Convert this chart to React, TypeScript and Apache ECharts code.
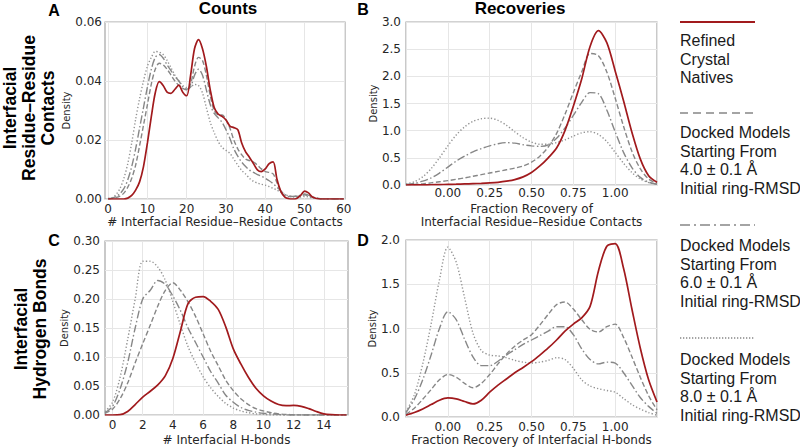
import React, { useEffect, useRef } from 'react';
import * as echarts from 'echarts';

// ---------- Panel A: counts of interfacial residue–residue contacts ----------
const contactsCountX = [
  0, 1, 2, 3, 4, 5, 6, 7, 8, 9, 10, 11, 12, 13, 14, 15, 16, 17, 18, 19, 20, 21, 22, 23, 24, 25, 26,
  27, 28, 29, 30, 31, 32, 33, 34, 35, 36, 37, 38, 39, 40, 41, 42, 43, 44, 45, 46, 47, 48, 49, 50, 51,
  52, 54, 56, 58, 60,
];
const contactsCountNatives = [
  0, 0, 0, 0, 0, 0.0003, 0.0012, 0.003, 0.0058, 0.011, 0.019, 0.028, 0.036, 0.0398, 0.0385, 0.0362,
  0.0358, 0.0372, 0.0386, 0.0362, 0.035, 0.042, 0.051, 0.054, 0.051, 0.045, 0.037, 0.031, 0.0288,
  0.028, 0.0268, 0.0247, 0.0242, 0.0235, 0.019, 0.016, 0.0141, 0.012, 0.0099, 0.0093, 0.0102, 0.012,
  0.0126, 0.0066, 0.0025, 0.0006, 0.0001, 0, 0.0002, 0.0012, 0.0027, 0.0021, 0.0007, 0, 0, 0, 0,
];
const contactsCount4A = [
  0, 0.0002, 0.0005, 0.001, 0.002, 0.004, 0.007, 0.0115, 0.018, 0.025, 0.032, 0.039, 0.044, 0.046,
  0.0455, 0.044, 0.042, 0.04, 0.0385, 0.0375, 0.037, 0.039, 0.045, 0.048, 0.047, 0.042, 0.035, 0.03,
  0.0285, 0.0285, 0.027, 0.024, 0.02, 0.017, 0.015, 0.0135, 0.013, 0.0125, 0.0115, 0.0102, 0.0093,
  0.009, 0.0085, 0.0055, 0.0025, 0.001, 0.0008, 0.0008, 0.0009, 0.0011, 0.0014, 0.0011, 0.0006,
  0.0001, 0, 0, 0,
];
const contactsCount6A = [
  0.0001, 0.0003, 0.0008, 0.0018, 0.0035, 0.0065, 0.011, 0.017, 0.024, 0.031, 0.038, 0.044, 0.048,
  0.049, 0.0478, 0.0455, 0.0435, 0.0415, 0.04, 0.038, 0.0372, 0.038, 0.042, 0.044, 0.042, 0.037,
  0.032, 0.029, 0.0275, 0.026, 0.0235, 0.0205, 0.017, 0.0145, 0.0125, 0.011, 0.0098, 0.009, 0.0083,
  0.0077, 0.007, 0.0062, 0.0052, 0.004, 0.0027, 0.0015, 0.001, 0.0009, 0.001, 0.0013, 0.0017,
  0.0013, 0.0007, 0.0001, 0, 0, 0,
];
const contactsCount8A = [
  0.0002, 0.0005, 0.0015, 0.0035, 0.007, 0.012, 0.019, 0.027, 0.034, 0.04, 0.045, 0.048, 0.05,
  0.0498, 0.049, 0.047, 0.0445, 0.042, 0.04, 0.0385, 0.0378, 0.038, 0.0388, 0.0385, 0.036, 0.031,
  0.026, 0.0225, 0.0195, 0.0175, 0.0165, 0.0155, 0.0135, 0.0115, 0.0097, 0.0085, 0.007, 0.006,
  0.0054, 0.005, 0.0047, 0.0042, 0.0036, 0.003, 0.0022, 0.0015, 0.001, 0.0007, 0.0006, 0.0007,
  0.0009, 0.0007, 0.0004, 0.0001, 0, 0, 0,
];

// ---------- Panel B: fraction recovery of residue–residue contacts ----------
const recoveryX = [
  -0.25, -0.2, -0.15, -0.1, -0.05, 0, 0.05, 0.1, 0.15, 0.2, 0.25, 0.3, 0.35, 0.4, 0.45, 0.5, 0.55,
  0.6, 0.65, 0.7, 0.75, 0.8, 0.85, 0.9, 0.95, 1.0, 1.05, 1.1, 1.15, 1.2, 1.25,
];
const contactsRecNatives = [
  0, 0.001, 0.003, 0.005, 0.008, 0.011, 0.015, 0.02, 0.025, 0.03, 0.038, 0.05, 0.07, 0.1, 0.15,
  0.23, 0.35, 0.5, 0.68, 1.0, 1.45, 1.95, 2.55, 2.84, 2.62, 2.1, 1.55, 0.97, 0.48, 0.17, 0.05,
];
const contactsRec4A = [
  0.003, 0.01, 0.02, 0.04, 0.06, 0.08, 0.105, 0.13, 0.16, 0.19, 0.22, 0.25, 0.28, 0.31, 0.35, 0.42,
  0.53, 0.7, 0.95, 1.3, 1.7, 2.08, 2.42, 2.38, 2.08, 1.6, 1.08, 0.62, 0.3, 0.11, 0.03,
];
const contactsRec6A = [
  0.01, 0.03, 0.07, 0.13, 0.22, 0.33, 0.44, 0.53, 0.61, 0.67, 0.72, 0.76, 0.78, 0.77, 0.74, 0.72,
  0.71, 0.74, 0.86, 1.05, 1.28, 1.52, 1.7, 1.68, 1.38, 0.98, 0.6, 0.32, 0.14, 0.05, 0.015,
];
const contactsRec8A = [
  0.02, 0.06, 0.15, 0.3, 0.5, 0.72, 0.92, 1.07, 1.17, 1.22, 1.23, 1.19, 1.1, 0.98, 0.87, 0.79, 0.75,
  0.75, 0.78, 0.83, 0.9, 0.96, 0.98, 0.93, 0.8, 0.6, 0.4, 0.23, 0.11, 0.045, 0.015,
];

// ---------- Panel C: counts of interfacial H-bonds ----------
const hbondCountX = [
  -0.5, 0, 0.5, 1, 1.5, 2, 2.5, 3, 3.5, 4, 4.5, 5, 5.5, 6, 6.5, 7, 7.5, 8, 8.5, 9, 9.5, 10, 10.5, 11,
  11.5, 12, 12.5, 13, 13.5, 14, 14.5, 15, 15.5,
];
const hbondCountNatives = [
  0, 0, 0.0005, 0.006, 0.018, 0.031, 0.041, 0.052, 0.068, 0.098, 0.145, 0.192, 0.203, 0.204, 0.196,
  0.182, 0.152, 0.114, 0.088, 0.065, 0.046, 0.033, 0.024, 0.018, 0.016, 0.0165, 0.015, 0.011, 0.006,
  0.002, 0.0005, 0, 0,
];
const hbondCount4A = [
  0.003, 0.01, 0.028, 0.055, 0.09, 0.123, 0.155, 0.188, 0.215, 0.228, 0.215, 0.195, 0.17, 0.14, 0.11,
  0.085, 0.06, 0.042, 0.028, 0.018, 0.011, 0.007, 0.004, 0.002, 0.001, 0.0005, 0, 0, 0, 0, 0, 0, 0,
];
const hbondCount6A = [
  0.004, 0.015, 0.045, 0.09, 0.15, 0.2, 0.215, 0.232, 0.225, 0.205, 0.18, 0.15, 0.125, 0.1, 0.075,
  0.055, 0.034, 0.022, 0.013, 0.008, 0.005, 0.003, 0.002, 0.001, 0, 0, 0, 0, 0, 0, 0, 0, 0,
];
const hbondCount8A = [
  0.006, 0.022, 0.065, 0.13, 0.2, 0.265, 0.265, 0.255, 0.232, 0.195, 0.155, 0.118, 0.09, 0.066,
  0.047, 0.032, 0.02, 0.012, 0.007, 0.004, 0.002, 0.001, 0, 0, 0, 0, 0, 0, 0, 0, 0, 0, 0,
];

// ---------- Panel D: fraction recovery of interfacial H-bonds ----------
const hbondRecNatives = [
  0.02, 0.05, 0.09, 0.14, 0.19, 0.215, 0.205, 0.175, 0.148, 0.19, 0.28, 0.36, 0.43, 0.5, 0.56, 0.625,
  0.7, 0.78, 0.87, 0.97, 1.05, 1.12, 1.25, 1.65, 1.93, 1.96, 1.68, 1.22, 0.78, 0.42, 0.17,
];
const hbondRec4A = [
  0.03, 0.1, 0.2, 0.31, 0.42, 0.48, 0.45, 0.38, 0.33, 0.38, 0.48, 0.6, 0.71, 0.8, 0.87, 0.93, 1.04,
  1.16, 1.27, 1.3, 1.22, 1.1, 0.99, 0.96, 1.02, 1.05, 0.9, 0.68, 0.45, 0.24, 0.08,
];
const hbondRec6A = [
  0.05, 0.2, 0.42, 0.7, 1.0, 1.19, 1.1, 0.88, 0.68, 0.58, 0.58, 0.63, 0.7, 0.76, 0.82, 0.87, 0.92,
  0.97, 1.02, 1.02, 0.93, 0.77, 0.65, 0.6, 0.62, 0.61, 0.5, 0.36, 0.22, 0.12, 0.04,
];
const hbondRec8A = [
  0.06, 0.25, 0.6, 1.05, 1.55, 1.92, 1.75, 1.35, 0.95, 0.75, 0.7, 0.69, 0.67, 0.64, 0.62, 0.61, 0.62,
  0.64, 0.67, 0.65, 0.55, 0.42, 0.35, 0.32, 0.3, 0.28, 0.21, 0.14, 0.09, 0.05, 0.02,
];

// ---------- ticks & labels ----------
const contactsCountTicks = [0, 10, 20, 30, 40, 50, 60];
const hbondCountTicks = [0, 2, 4, 6, 8, 10, 12, 14];
const legendLabels = [
  'Refined\nCrystal\nNatives',
  'Docked Models\nStarting From\n4.0 ± 0.1 Å\nInitial ring-RMSD',
  'Docked Models\nStarting From\n6.0 ± 0.1 Å\nInitial ring-RMSD',
  'Docked Models\nStarting From\n8.0 ± 0.1 Å\nInitial ring-RMSD',
];

const TICK_FONT = 'DejaVu Sans';
const SANS = 'Liberation Sans';
const RED = '#a11a1d';
const GRAY = '#878787';

const styles = [
  { color: RED, width: 1.7, type: 'solid' as any },
  { color: GRAY, width: 1.4, type: [5, 2.5] },
  { color: GRAY, width: 1.4, type: [8, 2.5, 1.5, 2.5] },
  { color: '#939393', width: 1.4, type: [1.3, 2.1] },
];

function mkSeries(x: number[], ys: number[][], idx: number) {
  // draw grey curves first, natives on top
  const order = [3, 2, 1, 0];
  return order.map((k) => ({
    type: 'line',
    xAxisIndex: idx,
    yAxisIndex: idx,
    data: x.map((v, i) => [v, ys[k][i]]),
    symbol: 'none',
    showSymbol: false,
    smooth: 0.3,
    silent: true,
    z: k === 0 ? 5 : 3,
    lineStyle: { color: styles[k].color, width: styles[k].width, type: styles[k].type },
  }));
}

const splitLine = { show: true, lineStyle: { color: '#e6e6e6', width: 1 } };
const labelBase = { fontFamily: TICK_FONT, fontSize: 12, color: '#262626' };
const nameBase = { fontFamily: TICK_FONT, fontSize: 12, color: '#262626' };

function yAxis(idx: number, max: number, interval: number, digits: number, margin: number, gap: number) {
  return {
    gridIndex: idx,
    type: 'value',
    min: 0,
    max,
    interval,
    axisLine: { show: false },
    axisTick: { show: false },
    axisLabel: { ...labelBase, margin, formatter: (v: number) => v.toFixed(digits) },
    splitLine,
    name: 'Density',
    nameLocation: 'middle',
    nameGap: gap,
    nameTextStyle: { fontFamily: TICK_FONT, fontSize: 10, color: '#262626' },
  };
}

export default function App() {
  const ref = useRef<HTMLDivElement>(null);
  useEffect(() => {
    if (!ref.current) return;
    const chart = echarts.init(ref.current, null, { renderer: 'svg' });

    const legendTops = [22, 113, 225, 338];
    const legendTextTops = [31, 123, 236, 350];
    const graphic: any[] = [
      { type: 'text', x: 228, y: 8, style: { text: 'Counts', fontFamily: SANS, fontWeight: 'bold', fontSize: 17, fill: '#000', textAlign: 'center', textVerticalAlign: 'middle' } },
      { type: 'text', x: 520, y: 8, style: { text: 'Recoveries', fontFamily: SANS, fontWeight: 'bold', fontSize: 17, fill: '#000', textAlign: 'center', textVerticalAlign: 'middle' } },
      { type: 'text', x: 54, y: 10, style: { text: 'A', fontFamily: SANS, fontWeight: 'bold', fontSize: 16, fill: '#000', textAlign: 'center', textVerticalAlign: 'middle' } },
      { type: 'text', x: 363, y: 9, style: { text: 'B', fontFamily: SANS, fontWeight: 'bold', fontSize: 16, fill: '#000', textAlign: 'center', textVerticalAlign: 'middle' } },
      { type: 'text', x: 54, y: 240, style: { text: 'C', fontFamily: SANS, fontWeight: 'bold', fontSize: 16, fill: '#000', textAlign: 'center', textVerticalAlign: 'middle' } },
      { type: 'text', x: 363, y: 240, style: { text: 'D', fontFamily: SANS, fontWeight: 'bold', fontSize: 16, fill: '#000', textAlign: 'center', textVerticalAlign: 'middle' } },
      { type: 'text', x: 29, y: 108, rotation: Math.PI / 2, style: { text: 'Interfacial\nResidue–Residue\nContacts', fontFamily: SANS, fontWeight: 'bold', fontSize: 17.5, lineHeight: 19, fill: '#000', textAlign: 'center', textVerticalAlign: 'middle' } },
      { type: 'text', x: 30, y: 329, rotation: Math.PI / 2, style: { text: 'Interfacial\nHydrogen Bonds', fontFamily: SANS, fontWeight: 'bold', fontSize: 17.5, lineHeight: 19, fill: '#000', textAlign: 'center', textVerticalAlign: 'middle' } },
    ];
    const legendDash = [null, [8, 5], [10, 4, 2, 4], [1.3, 1.7]];
    legendLabels.forEach((t, i) => {
      graphic.push({
        type: 'line',
        shape: { x1: 680, y1: legendTops[i], x2: 755, y2: legendTops[i] },
        style: { stroke: i === 0 ? RED : GRAY, lineWidth: i === 0 ? 2 : 1.6, lineDash: legendDash[i] || undefined },
      });
      graphic.push({
        type: 'text',
        x: 680,
        y: legendTextTops[i],
        style: { text: t, fontFamily: SANS, fontSize: 16, lineHeight: 18.7, fill: '#1a1a1a', textAlign: 'left', textVerticalAlign: 'top' },
      });
    });

    const option: any = {
      animation: false,
      backgroundColor: '#ffffff',
      grid: [
        { left: 105, top: 22, width: 240, height: 177 },
        { left: 406, top: 22, width: 251, height: 163 },
        { left: 105, top: 241, width: 243, height: 176 },
        { left: 406, top: 240, width: 251, height: 177 },
      ].map((g) => ({ ...g, show: true, borderColor: '#a6a6a6', borderWidth: 1.2, containLabel: false })),
      xAxis: [
        {
          gridIndex: 0, type: 'value', min: -0.8, max: 60.3,
          axisLine: { show: false },
          axisTick: { show: false, customValues: contactsCountTicks },
          axisLabel: { ...labelBase, margin: 4, customValues: contactsCountTicks },
          splitLine,
          name: '# Interfacial Residue–Residue Contacts', nameLocation: 'middle', nameGap: 17, nameTextStyle: nameBase,
        },
        {
          gridIndex: 1, type: 'value', min: -0.25, max: 1.25, interval: 0.25,
          axisLine: { show: false }, axisTick: { show: false },
          axisLabel: { ...labelBase, margin: 2, showMinLabel: false, showMaxLabel: false, formatter: (v: number) => v.toFixed(2) },
          splitLine,
          name: 'Fraction Recovery of\nInterfacial Residue–Residue Contacts', nameLocation: 'middle', nameGap: 17.5,
          nameTextStyle: { ...nameBase, lineHeight: 13 },
        },
        {
          gridIndex: 2, type: 'value', min: -0.5, max: 15.6,
          axisLine: { show: false },
          axisTick: { show: false, customValues: hbondCountTicks },
          axisLabel: { ...labelBase, margin: 4, customValues: hbondCountTicks },
          splitLine,
          name: '# Interfacial H-bonds', nameLocation: 'middle', nameGap: 19, nameTextStyle: nameBase,
        },
        {
          gridIndex: 3, type: 'value', min: -0.25, max: 1.25, interval: 0.25,
          axisLine: { show: false }, axisTick: { show: false },
          axisLabel: { ...labelBase, margin: 4, showMinLabel: false, showMaxLabel: false, formatter: (v: number) => v.toFixed(2) },
          splitLine,
          name: 'Fraction Recovery of Interfacial H-bonds', nameLocation: 'middle', nameGap: 17, nameTextStyle: nameBase,
        },
      ],
      yAxis: [
        yAxis(0, 0.06, 0.02, 2, 3, 31),
        yAxis(1, 3, 0.5, 1, 5, 27),
        yAxis(2, 0.3, 0.05, 2, 5, 34),
        yAxis(3, 2, 0.5, 1, 6, 26),
      ],
      series: [
        ...mkSeries(contactsCountX, [contactsCountNatives, contactsCount4A, contactsCount6A, contactsCount8A], 0),
        ...mkSeries(recoveryX, [contactsRecNatives, contactsRec4A, contactsRec6A, contactsRec8A], 1),
        ...mkSeries(hbondCountX, [hbondCountNatives, hbondCount4A, hbondCount6A, hbondCount8A], 2),
        ...mkSeries(recoveryX, [hbondRecNatives, hbondRec4A, hbondRec6A, hbondRec8A], 3),
      ],
      graphic,
    };
    chart.setOption(option);
    return () => chart.dispose();
  }, []);
  return <div ref={ref} style={{ position: 'fixed', left: 0, top: 0, width: 800, height: 447, background: '#fff' }} />;
}
